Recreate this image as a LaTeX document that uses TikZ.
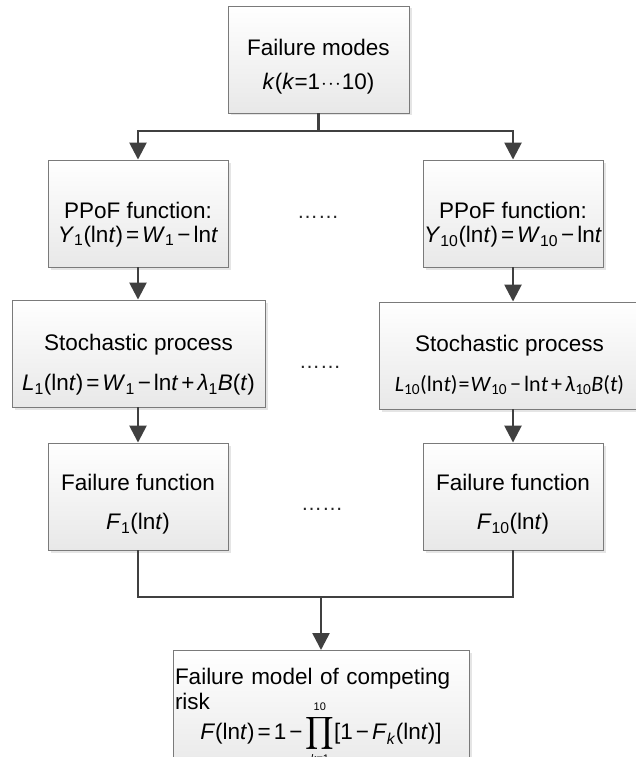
\documentclass[tikz,border=0pt]{standalone}
\usepackage{amsmath}
\usepackage{graphicx}
\usepackage{fontspec}
\setmainfont{Liberation Sans}
\newfontfamily\calib{Carlito}
\usetikzlibrary{arrows.meta,shadows}
\definecolor{boxline}{HTML}{7A7A7A}
\definecolor{connc}{HTML}{404040}
\newcommand\tstrut[1]{\rule{0pt}{#1pt}}
\newcommand\eqs{\hspace{3pt}=\hspace{3pt}}
\newcommand\mns{\hspace{3pt}−\hspace{3pt}}
\newcommand\pls{\hspace{3pt}+\hspace{3pt}}
\newcommand\limfont{\fontsize{11}{11}\selectfont}
\tikzset{
  box/.style={draw=boxline, line width=0.9pt, top color=white, bottom color=black!9,
    inner sep=1pt, align=center, font=\fontsize{22.5}{25}\selectfont,
    drop shadow={shadow xshift=2.5pt, shadow yshift=-2.5pt, fill=black, opacity=0.10}},
  conn/.style={draw=connc, line width=2.6pt},
  arr/.style={conn, -{Triangle[width=17pt,length=17pt]}},
  dotsnode/.style={font=\fontsize{21}{21}\selectfont, inner sep=0pt, anchor=base, text=black!85}
}
\begin{document}
\begin{tikzpicture}[x=1pt,y=-1pt]
\useasboundingbox (0,0) rectangle (636,757);
\clip (0,0) rectangle (636,757);
% boxes
\node[box, minimum width=181pt, minimum height=107pt] (top) at (318.5,59.5)
  {\tstrut{31}Failure modes\\[9pt]\textit{k}(\textit{k}=1\hspace{1pt}$\cdot\!\cdot\!\cdot$\hspace{1pt}10)};
\node[box, minimum width=180pt, minimum height=107pt] (ppofL) at (138,213.5)
  {\tstrut{38}PPoF function:\\[-1pt]\textit{Y}\textsubscript{1}(ln\textit{t})\eqs\textit{W}\textsubscript{1}\mns ln\textit{t}};
\node[box, minimum width=180pt, minimum height=107pt] (ppofR) at (513,213.5)
  {\tstrut{38}PPoF function:\\[-1pt]\textit{Y}\textsubscript{10}(ln\textit{t})\eqs\textit{W}\textsubscript{10}\mns ln\textit{t}};
\node[box, minimum width=253pt, minimum height=107pt] (stochL) at (138.5,353.5)
  {\tstrut{39.6}Stochastic process\\[15pt]\textit{L}\textsubscript{1}(ln\textit{t})\eqs\textit{W}\textsubscript{1}\mns ln\textit{t}\pls\textit{λ}\textsubscript{1}\textit{B}(\textit{t})};
\node[box, minimum width=261pt, minimum height=107pt] (stochR) at (509.5,355.5)
  {\tstrut{35.6}Stochastic process\\[15pt]{\fontsize{22}{25}\selectfont\calib\textit{L}\textsubscript{10}(ln\textit{t})\hspace{1pt}=\hspace{1pt}\textit{W}\textsubscript{10}\mns ln\textit{t}\pls\textit{λ}\textsubscript{10}\textit{B}(\textit{t})}};
\node[box, minimum width=180pt, minimum height=107pt] (ffL) at (138,496.5)
  {\tstrut{32.6}Failure function\\[14pt]\textit{F}\textsubscript{1}(ln\textit{t})};
\node[box, minimum width=180pt, minimum height=107pt] (ffR) at (513,496.5)
  {\tstrut{32.6}Failure function\\[14pt]\textit{F}\textsubscript{10}(ln\textit{t})};
\node[box, anchor=north, text width=292pt, align=left, inner xsep=2pt, inner ysep=2pt,
  font=\fontsize{22.5}{25}\selectfont] (bot) at (321,650)
  {\tstrut{32.5}Failure model of competing\\risk\par\vspace{5pt}
   {\centering\smash{\textit{F}(ln\textit{t})\eqs 1\mns$\mathop{\raisebox{1pt}{\scalebox{1.08}[1.1]{$\displaystyle\prod$}}}\limits_{\raisebox{4pt}[0pt][0pt]{\limfont\textit{k}=1}}^{\mbox{\limfont 10}}$[1\mns\textit{F}\textsubscript{\textit{k}}(ln\textit{t})]}\rule[-32pt]{0pt}{0pt}\par}};
% dots
\node[dotsnode] (dots1) at (318,218) {……};
\node[dotsnode] (dots2) at (320,368) {……};
\node[dotsnode] (dots3) at (322,510) {……};
% connectors
\coordinate (split) at (top.south |- 0,131);
\draw[conn] (top.south) -- (split);
\draw[arr] (split) -| (ppofL.north);
\draw[arr] (split) -| (ppofR.north);
\draw[arr] (ppofL.south) -- (ppofL.south |- stochL.north);
\draw[arr] (stochL.south -| ffL.north) -- (ffL.north);
\draw[arr] (ppofR.south) -- (ppofR.south |- stochR.north);
\draw[arr] (stochR.south -| ffR.north) -- (ffR.north);
\coordinate (merge) at (bot.north |- 0,597);
\draw[conn] (ffL.south) |- (merge);
\draw[conn] (ffR.south) |- (merge);
\draw[arr] (merge) -- (bot.north);
\end{tikzpicture}
\end{document}
